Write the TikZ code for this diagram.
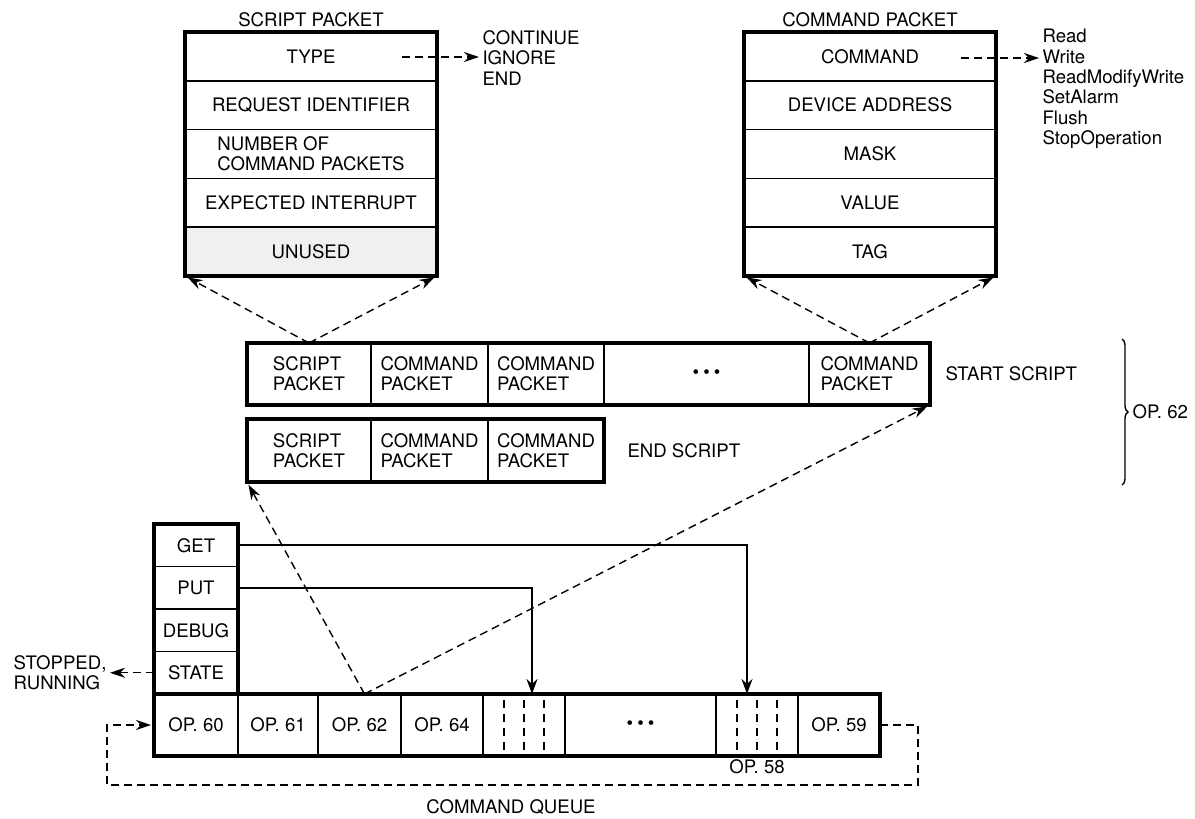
\documentclass[tikz,border=0pt]{standalone}
\usepackage{fontspec}
\setmainfont{TeX Gyre Heros}
\usetikzlibrary{positioning,arrows.meta,decorations.pathreplacing}
\tikzset{
  cell/.style={draw, line width=1.5pt, inner sep=0pt, outer sep=0pt, align=left, minimum height=#1},
  outer/.style={line width=3.8pt},
  link/.style={line width=1.6pt, -{Stealth[length=15pt,width=11pt]}},
  dlink/.style={line width=1.4pt, dash pattern=on 8pt off 5pt, -{Stealth[length=15pt,width=10pt]}},
  slot/.style={line width=1.4pt, dash pattern=on 8pt off 6pt},
}
\begin{document}
\begin{tikzpicture}[x=1pt, y=-1pt, every node/.style={font=\fontsize{18.6}{20.4}\selectfont}]
    \useasboundingbox (0,0) rectangle (1195,819);
    \foreach \txt [count=\i] in {TYPE, REQUEST IDENTIFIER, {NUMBER OF\\COMMAND PACKETS}, EXPECTED INTERRUPT} {
        \node[cell=48.8pt, minimum width=252pt] (sp\i) at (311, 7.6+48.8*\i) {\txt};
    }
    \node[cell=48.8pt, minimum width=252pt, fill=black!6, below=0pt of sp4] (sp5) {UNUSED};
    \foreach \txt [count=\i] in {COMMAND, DEVICE ADDRESS, MASK, VALUE, TAG} {
        \node[cell=48.8pt, minimum width=252pt] (cp\i) at (870, 7.6+48.8*\i) {\txt};
    }
    \draw[outer] (sp1.north west) rectangle (sp5.south east);
    \draw[outer] (cp1.north west) rectangle (cp5.south east);
    \node[above=2pt of sp1] (sptitle) {SCRIPT PACKET};
    \node[above=2pt of cp1] (cptitle) {COMMAND PACKET};

    \node[anchor=west, align=left] (typeopts) at (479,58) {CONTINUE\\IGNORE\\END};
    \node[anchor=west, align=left] (cmdopts) at (1039,89) {Read\\Write\\ReadModifyWrite\\SetAlarm\\Flush\\StopOperation};
    \coordinate (typetail) at (402,57);
    \coordinate (cmdtail) at (961,58);
    \draw[dlink] (typetail) -- (typeopts.west |- typetail);
    \draw[dlink] (cmdtail) -- (cmdopts.west |- cmdtail);

    \node[cell=62pt, minimum width=124pt, anchor=west] (ss1) at (247,374) {SCRIPT\\PACKET};
    \node[cell=62pt, minimum width=117pt, right=0pt of ss1] (ss2) {COMMAND\\PACKET};
    \node[cell=62pt, minimum width=116pt, right=0pt of ss2] (ss3) {COMMAND\\PACKET};
    \node[cell=62pt, minimum width=205pt, right=0pt of ss3] (ss4) {\textbullet\hspace{4pt}\textbullet\hspace{4pt}\textbullet};
    \node[cell=62pt, minimum width=121pt, right=0pt of ss4] (ss5) {COMMAND\\PACKET};
    \draw[outer] (ss1.north west) rectangle (ss5.south east);
    \node[right=12pt of ss5] (startlbl) {START SCRIPT};

    \node[cell=63pt, minimum width=124pt, anchor=west] (es1) at (247,450.5) {SCRIPT\\PACKET};
    \node[cell=63pt, minimum width=117pt, right=0pt of es1] (es2) {COMMAND\\PACKET};
    \node[cell=63pt, minimum width=116pt, right=0pt of es2] (es3) {COMMAND\\PACKET};
    \draw[outer] (es1.north west) rectangle (es3.south east);
    \node[right=20pt of es3] (endlbl) {END SCRIPT};

    \coordinate (bracetop) at (1122,339);
    \coordinate (bracebot) at (1122,485);
    \draw[line width=1.4pt, decorate, decoration={brace, amplitude=6pt}] (bracetop) -- (bracebot);
    \node[anchor=west] (op62) at (1129,412) {OP. 62};

    \node[cell=42.5pt, minimum width=84pt, anchor=north] (get) at (196,524) {GET};
    \node[cell=42.5pt, minimum width=84pt, below=0pt of get] (put) {PUT};
    \node[cell=42.5pt, minimum width=84pt, below=0pt of put] (debug) {DEBUG};
    \node[cell=42.5pt, minimum width=84pt, below=0pt of debug] (state) {STATE};
    \draw[outer] (get.north west) rectangle (state.south east);

    \node[cell=62pt, minimum width=84pt, anchor=north west] (q1) at (154,694) {OP. 60};
    \node[cell=62pt, minimum width=80pt, right=0pt of q1] (q2) {OP. 61};
    \node[cell=62pt, minimum width=83pt, right=0pt of q2] (q3) {OP. 62};
    \node[cell=62pt, minimum width=82pt, right=0pt of q3] (q4) {OP. 64};
    \node[cell=62pt, minimum width=82pt, right=0pt of q4] (q5) {};
    \node[cell=62pt, minimum width=151pt, right=0pt of q5] (q6) {\textbullet\hspace{4pt}\textbullet\hspace{4pt}\textbullet};
    \node[cell=62pt, minimum width=82pt, right=0pt of q6] (q7) {};
    \node[cell=62pt, minimum width=82pt, right=0pt of q7] (q8) {OP. 59};
    \draw[outer] (q1.north west) rectangle (q8.south east);
    \foreach \q in {q5, q7} {
        \foreach \dx in {-20, 0, 20} {
            \draw[slot] ([shift={(\dx pt,25pt)}]\q.center) -- ([shift={(\dx pt,-25pt)}]\q.center);
        }
    }
    \node[below=0pt of q7] (op58) {OP. 58};

    \draw[link] (get.east) -| ([xshift=-10pt]q7.north);
    \draw[link] (put.east) -| ([xshift=8pt]q5.north);

    \coordinate (qtop) at ([xshift=5pt]q3.north);
    \draw[dlink, shorten >=3pt] (qtop) -- (es1.south west);
    \draw[dlink, shorten >=3pt] (qtop) -- (ss5.south east);
    \draw[dlink, shorten >=3pt] (ss1.north) -- (sp5.south west);
    \draw[dlink, shorten >=3pt] (ss1.north) -- (sp5.south east);
    \draw[dlink, shorten >=3pt] (ss5.north) -- (cp5.south west);
    \draw[dlink, shorten >=3pt] (ss5.north) -- (cp5.south east);

    \node[left=44pt of state, align=left] (stopped) {STOPPED,\\RUNNING};
    \draw[dlink] (state.west) -- (stopped.east);

    \coordinate (loopr) at (918,785);
    \coordinate (loopl) at (107,785);
    \draw[dlink, shorten >=3pt] (q8.east) -| (loopr) -- (loopl) |- (q1.west);
    \node (cqlabel) at (511,807) {COMMAND QUEUE};
\end{tikzpicture}
\end{document}
